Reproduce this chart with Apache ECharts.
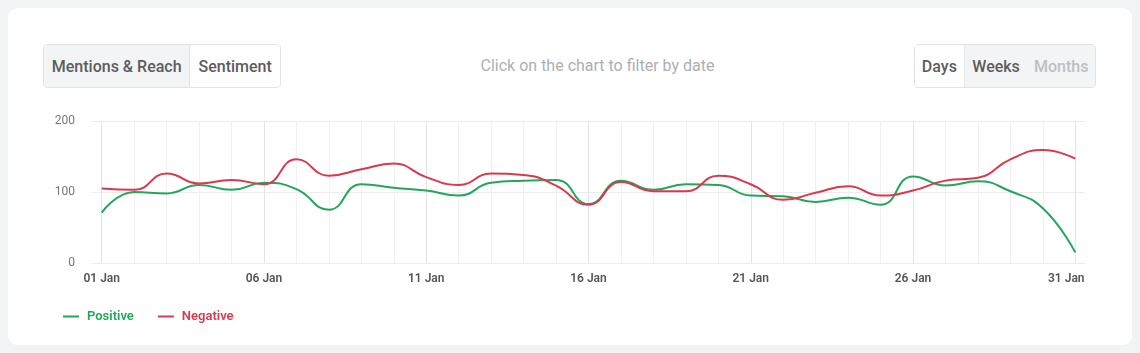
<!DOCTYPE html>
<html>
<head>
<meta charset="utf-8">
<script src="https://cdn.jsdelivr.net/npm/echarts@6/dist/echarts.min.js"></script>
<style>
  html, body { margin: 0; padding: 0; }
  body { width: 1140px; height: 353px; background: #f2f3f5; font-family: Roboto, "Noto Sans", sans-serif; position: relative; overflow: hidden; }
  .card { position: absolute; left: 8px; top: 8px; width: 1124px; height: 337px; background: #fff; border-radius: 9px; }
  .group { position: absolute; top: 44px; height: 44px; display: flex; border: 1px solid #e1e3e6; border-radius: 4px; box-sizing: border-box; overflow: hidden; }
  .group div { display: flex; align-items: center; justify-content: center; font-size: 16px; font-weight: 500; color: #5c5c5c; background: #f3f4f6; box-sizing: border-box; padding-top: 1px; }
  .group div.on { background: #fff; }
  .hint { position: absolute; top: 56px; left: 0; width: 1195px; text-align: center; font-size: 16px; color: #abafb7; }
  #chart { position: absolute; left: 0; top: 0; width: 1140px; height: 353px; }
</style>
</head>
<body>
<div class="card"></div>
<div class="group" style="left:43px;width:238px;">
  <div style="width:147px;border-right:1px solid #e1e3e6;">Mentions &amp; Reach</div>
  <div class="on" style="width:90px;">Sentiment</div>
</div>
<div class="hint">Click on the chart to filter by date</div>
<div class="group" style="left:914px;width:182px;">
  <div class="on" style="width:50px;border-right:1px solid #e8e9ec;">Days</div>
  <div style="width:63px;">Weeks</div>
  <div style="width:68px;color:#bdbfc3;">Months</div>
</div>
<div id="chart"></div>
<script>
const days = ['01 Jan', '02 Jan', '03 Jan', '04 Jan', '05 Jan', '06 Jan', '07 Jan', '08 Jan', '09 Jan', '10 Jan',
  '11 Jan', '12 Jan', '13 Jan', '14 Jan', '15 Jan', '16 Jan', '17 Jan', '18 Jan', '19 Jan', '20 Jan',
  '21 Jan', '22 Jan', '23 Jan', '24 Jan', '25 Jan', '26 Jan', '27 Jan', '28 Jan', '29 Jan', '30 Jan', '31 Jan'];
const positive = [71, 100, 98, 110, 103, 113, 104, 75, 111, 106, 102, 95, 113, 116, 117, 83,
  116, 103, 111, 110, 95, 94, 86, 92, 82, 122, 109, 115, 101, 77, 15];
const negative = [105, 103, 126, 112, 117, 111, 146, 123, 132, 140, 121, 110, 126, 124, 109, 82,
  114, 101, 101, 123, 111, 89, 99, 108, 95, 102, 116, 120, 146, 159, 147];
const yTicks = [0, 100, 200];
const labelDays = [0, 5, 10, 15, 20, 25, 30];

const chart = echarts.init(document.getElementById('chart'));

const toPoints = arr => arr.map((v, i) => [i, v]);

chart.setOption({
  animation: false,
  textStyle: { fontFamily: 'Roboto' },
  grid: { left: 92, right: 55, top: 121, bottom: 90 },
  xAxis: {
    type: 'value',
    min: -0.3,
    max: 30.3,
    axisLine: { show: false },
    axisTick: { show: false, customValues: days.map((d, i) => i) },
    axisLabel: {
      customValues: labelDays,
      // last label sits a little inside the plot edge
      formatter: v => v === days.length - 1 ? '{last|' + days[v] + '}' : days[v],
      color: '#555',
      fontSize: 12,
      fontWeight: 600,
      margin: 10,
      rich: {
        last: { color: '#555', fontSize: 12, fontWeight: 600, padding: [0, 18, 0, 0] }
      }
    },
    splitLine: {
      show: true,
      lineStyle: { color: ['#e2e3e6', '#f0f1f3', '#f0f1f3', '#f0f1f3', '#f0f1f3'], width: 1 }
    }
  },
  yAxis: {
    type: 'value',
    min: 0,
    max: 200,
    interval: 100,
    axisLine: { show: false },
    axisTick: { show: false },
    axisLabel: {
      color: '#777',
      fontSize: 12,
      margin: 17,
      formatter: v => yTicks.includes(v) ? String(v) : ''
    },
    splitLine: { lineStyle: { color: '#ebecef' } }
  },
  legend: {
    left: 58,
    top: 305,
    itemWidth: 16,
    itemHeight: 2,
    itemGap: 24,
    icon: 'rect',
    textStyle: { fontSize: 13, fontWeight: 600, padding: [0, 0, 0, 3] },
    data: [
      { name: 'Positive', textStyle: { color: '#23a65a' } },
      { name: 'Negative', textStyle: { color: '#d8394c' } }
    ]
  },
  series: [
    {
      name: 'Positive',
      type: 'line',
      smooth: true,
      showSymbol: false,
      data: toPoints(positive),
      lineStyle: { color: '#23a65a', width: 2 },
      itemStyle: { color: '#23a65a' }
    },
    {
      name: 'Negative',
      type: 'line',
      smooth: true,
      showSymbol: false,
      data: toPoints(negative),
      lineStyle: { color: '#d8394c', width: 2 },
      itemStyle: { color: '#d8394c' }
    }
  ]
});
</script>
</body>
</html>
